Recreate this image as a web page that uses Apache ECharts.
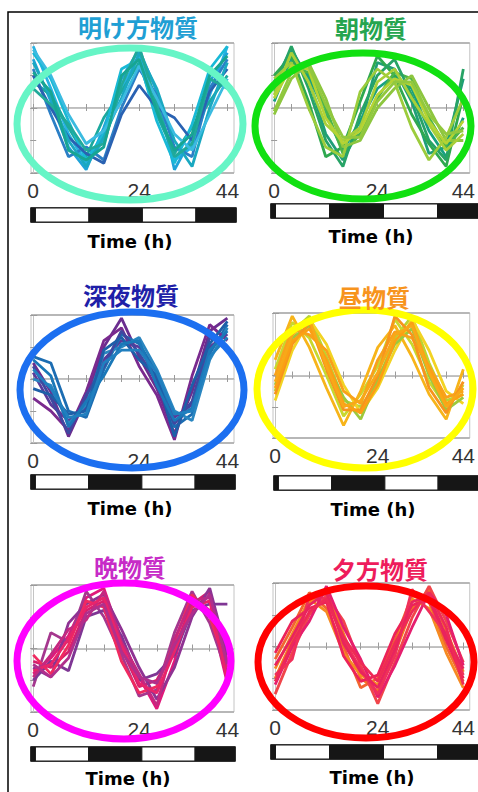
<!DOCTYPE html>
<html><head><meta charset="utf-8">
<script src="https://cdn.jsdelivr.net/npm/echarts@6/dist/echarts.min.js"></script>
<style>html,body{margin:0;padding:0;background:#fff}#c{width:478px;height:792px}</style>
</head><body><div id="c"></div>
<script>
// ---------- data ----------
const hours = [0,4,8,12,16,20,24,28,32,36,40,44];
const tickLabels = [0,24,44];
const panelTitles = ['明け方物質','朝物質','深夜物質','昼物質','晩物質','夕方物質'];
const axisTitle = 'Time (h)';
const ldStart = [-0.5,0.5,12.5,24.5,36.5];
const ldEnd   = [0.5,12.5,24.5,36.5,45.5];
const ldDark  = [1,0,1,0,1];

const dawnLines = [
  [1.9,0.6,-0.8,-1.7,-1.0,0.6,1.6,0.2,-1.6,-1.2,0.4,1.9],
  [1.5,0.2,-1.2,-1.9,-0.6,0.9,1.8,0.5,-1.9,-0.9,0.8,1.7],
  [0.8,0.4,-0.6,-1.5,-0.3,0.5,1.4,-0.2,-1.4,-0.6,0.2,1.0],
  [1.2,-0.2,-1.5,-1.2,-1.6,0.0,1.2,0.4,-1.2,-1.5,0.6,1.5],
  [1.7,0.9,-0.4,-1.6,-0.8,1.2,1.5,-0.4,-1.7,-0.5,1.2,1.9],
  [1.0,0.0,-0.9,-1.4,-1.7,-0.2,0.7,0.0,-0.3,-1.0,0.5,1.2],
  [1.4,0.3,-1.0,-1.8,-0.9,0.3,1.7,0.6,-1.0,-1.8,0.0,1.4],
  [0.6,0.1,-0.5,-1.3,-1.1,0.7,1.9,0.1,-1.5,-1.1,0.9,0.6],
  [1.8,1.0,-0.2,-1.1,-0.7,0.2,1.3,0.3,-0.8,-1.3,-0.2,0.9],
  [1.1,0.5,-1.3,-1.6,-1.2,1.0,1.5,-0.1,-1.3,-0.8,1.0,1.6]
];
const morningLines = [
  [0.8,1.8,0.9,-0.8,-1.6,-0.6,1.4,1.2,0.2,-1.4,-1.2,0.9],
  [0.2,1.5,1.0,-0.2,-1.3,-0.4,0.6,1.0,0.6,-0.7,-1.5,-0.3],
  [1.0,1.6,0.2,-1.5,-1.2,0.2,1.6,1.0,-0.2,-1.1,-1.8,0.4],
  [0.5,1.2,1.1,0.0,-1.4,-0.8,0.3,1.1,0.9,-0.3,-1.2,-0.6],
  [0.6,1.9,0.6,-1.0,-1.8,-0.2,1.0,1.5,0.4,-1.0,-1.6,1.2],
  [-0.2,0.9,1.4,0.3,-1.2,-1.0,0.0,0.6,1.0,0.0,-1.0,-1.0],
  [0.9,1.4,0.0,-1.2,-1.5,0.5,1.2,0.8,-0.6,-1.6,-0.9,0.3],
  [0.4,1.7,0.8,-0.5,-1.0,-0.6,0.8,1.2,0.3,-0.5,-1.3,-0.8],
  [0.3,1.3,1.2,-0.3,-1.1,-0.7,0.4,0.9,0.7,-0.4,-1.1,-0.4],
  [-0.1,1.1,1.3,0.1,-0.9,-0.9,0.2,0.8,0.8,-0.2,-0.8,-0.7]
];
const midnightLines = [
  [0.5,-0.4,-1.8,-0.6,1.0,1.9,0.7,-0.3,-1.7,-0.4,1.5,1.9],
  [0.2,-0.8,-1.3,-0.9,0.6,1.2,1.0,0.0,-1.2,-0.8,1.0,1.4],
  [0.7,0.5,-1.0,-1.2,0.3,1.4,1.1,0.2,-1.5,-1.1,0.8,1.7],
  [-0.6,-1.0,-1.6,-0.4,1.2,1.6,0.4,-0.5,-1.9,0.1,1.7,1.2],
  [0.0,-0.2,-1.4,-0.8,0.8,1.0,1.3,0.3,-1.0,-1.3,0.6,1.6],
  [0.4,-0.6,-1.7,-0.5,0.4,1.5,0.8,-0.1,-1.4,-0.7,1.3,1.0],
  [-0.3,-0.5,-1.1,-1.0,0.9,1.3,0.6,0.1,-1.8,-0.2,1.1,1.8],
  [0.6,0.1,-1.5,-0.7,0.1,1.1,1.2,-0.2,-1.3,-0.9,0.9,1.5],
  [0.3,-0.3,-1.2,-1.1,0.5,0.9,0.9,0.2,-1.1,-1.0,0.7,1.3]
];
const noonLines = [
  [-0.5,1.4,1.9,0.6,-0.8,-1.0,-0.2,1.2,1.9,0.4,-0.8,-0.6],
  [0.2,1.7,1.2,0.0,-1.3,-0.6,0.3,1.8,1.0,-0.2,-1.0,-0.3],
  [-0.8,0.8,1.8,1.0,-0.3,-1.2,-0.4,0.8,1.8,0.8,-0.5,-0.9],
  [0.5,1.9,0.9,-0.4,-1.6,-0.5,0.9,1.6,0.6,-0.6,-1.4,0.2],
  [-0.3,1.2,1.6,0.4,-0.7,-1.4,-0.1,1.0,1.5,0.0,-1.1,-0.7],
  [0.0,1.5,1.3,0.8,-0.5,-0.9,0.5,1.4,1.2,0.3,-0.7,-0.5],
  [-0.6,1.0,1.7,0.2,-1.1,-1.1,0.0,1.9,1.3,-0.4,-1.2,-0.2],
  [-0.4,1.1,1.5,0.5,-0.9,-1.2,-0.3,1.1,1.7,0.2,-0.9,-0.6],
  [-0.2,1.3,1.8,0.3,-1.0,-0.8,0.1,1.3,1.6,0.1,-1.0,-0.4]
];
const eveningLines = [
  [-0.8,-0.3,0.4,1.6,1.9,0.3,-0.9,-1.9,-0.4,1.6,1.2,-1.1],
  [-0.4,-0.6,-0.1,1.2,1.5,0.0,-1.2,-1.0,0.0,1.4,1.8,-0.4],
  [-1.2,0.5,0.2,1.8,1.0,-0.2,-1.5,-1.3,0.5,1.8,0.8,-0.8],
  [-0.6,-0.9,0.8,1.4,1.7,0.6,-0.6,-1.6,-0.6,1.0,1.9,-0.2],
  [-1.0,-0.4,-0.7,1.0,1.2,0.4,-1.0,-0.8,-0.2,1.2,1.4,1.4],
  [-0.2,-0.8,0.1,1.5,1.3,-0.4,-1.4,-1.2,0.2,1.7,1.0,-0.6],
  [-0.9,-0.2,0.6,0.9,1.8,0.2,-0.8,-1.8,0.3,1.5,1.6,-0.9],
  [-0.7,-0.5,0.3,1.3,1.6,0.1,-1.1,-1.4,-0.1,1.3,1.5,-1.0],
  [-0.5,-0.9,-0.3,1.1,1.4,-0.1,-0.9,-1.1,0.1,1.1,1.7,-0.5]
];
const duskLines = [
  [-1.0,0.2,1.4,1.8,0.4,-1.0,-1.4,-0.2,1.2,1.8,0.5,-0.8],
  [-0.4,0.6,1.7,1.2,0.0,-1.3,-1.0,0.2,1.6,1.4,0.0,-1.1],
  [-1.5,-0.2,1.0,1.6,0.8,-0.6,-1.8,-0.5,0.9,1.9,0.8,-0.5],
  [-0.7,0.4,1.5,1.1,-0.2,-0.9,-1.2,0.0,1.5,1.2,-0.2,-1.3],
  [-1.2,0.0,0.8,1.9,0.6,-0.4,-1.6,-0.6,0.6,1.7,1.0,-0.6],
  [-0.2,0.8,1.2,1.4,-0.3,-1.1,-0.9,0.4,1.3,1.5,0.2,-1.0],
  [-0.9,-0.4,1.6,1.5,0.2,-0.7,-1.5,-0.3,1.8,1.1,0.4,-0.9],
  [-0.6,0.3,1.3,1.7,0.1,-0.8,-1.3,-0.1,1.4,1.6,0.3,-0.7],
  [-1.1,0.1,1.1,1.5,0.3,-0.5,-1.1,0.1,1.1,1.7,0.6,-1.2]
];
const panelData = [dawnLines, morningLines, midnightLines, noonLines, eveningLines, duskLines];

// ---------- styles & layout ----------
const lineColors = [
  ['#27b2e4','#1fa3d8','#1ba99e','#2b7fc6','#19b9d6','#2a62b2','#1aa8c0','#21a99a','#3bbbe0','#17a592'],
  ['#1f9e78','#18a080','#2ea84f','#4cb548','#27a366','#8dc63f','#9ccc3c','#a9cf38','#b5d334','#92c83e'],
  ['#6b2d8f','#5a3a9a','#1c6db2','#7a2a8e','#2a86c0','#3f48a0','#1d5fa8','#1a78b8','#207fbf'],
  ['#b9d432','#c8d82e','#f2d323','#f7b41a','#9cc93c','#f9a11b','#f7941d','#fb9f14','#f8a818'],
  ['#e0197a','#d61f6e','#a5378e','#8e3393','#7f3694','#ef2a60','#c42880','#e8246a','#b02f8c'],
  ['#f47c20','#f26530','#f0454a','#f58a22','#e51e6e','#ec2359','#f0305a','#e8245e','#ee2a56']
];
const titleColors = ['#1f9fd4','#25a54f','#1f1fa8','#f7941d','#c72bc7','#ee1c5c'];
const ringColors  = ['#66f5c6','#11e011','#1c6ff0','#ffff00','#ff00ff','#ff0000'];
const layout = [
  {grid:{left:31,top:43,width:203,height:130}, ld:{left:31,top:208,width:205,height:14}, title:[138,26], time:[130,241], ring:[130,124,113,76]},
  {grid:{left:272,top:43,width:202,height:130}, ld:{left:271,top:204,width:210,height:14}, title:[371,27], time:[371,236], ring:[363,126,108,73]},
  {grid:{left:31,top:315,width:203,height:128}, ld:{left:31,top:475,width:204,height:14}, title:[131,294], time:[130,508], ring:[132,390,112,78]},
  {grid:{left:273,top:313,width:201,height:125}, ld:{left:274,top:476,width:210,height:14}, title:[374,296], time:[373,509], ring:[365,389,108,79]},
  {grid:{left:31,top:585,width:203,height:127}, ld:{left:31,top:747,width:204,height:14}, title:[130,566], time:[128,778], ring:[124,661,107,78]},
  {grid:{left:273,top:583,width:201,height:127}, ld:{left:271,top:745,width:210,height:14}, title:[380,568], time:[372,777], ring:[366,662,108,76]}
];
const X_MIN = -0.5, X_MAX = 45.5;

// ---------- build option ----------
const grids = [], xAxes = [], yAxes = [], series = [], graphics = [];
const tickStyle = {color:'#9a9a9a'};
layout.forEach((L, p) => {
  grids.push(Object.assign({show:true, borderColor:'#c4c4c4', borderWidth:1, containLabel:false}, L.grid));
  xAxes.push({type:'value', gridIndex:p, min:X_MIN, max:X_MAX, position:'bottom',
    axisLine:{show:true, lineStyle:{color:'#c4c4c4'}},
    axisTick:{show:true, inside:true, length:4, customValues:hours, lineStyle:tickStyle},
    axisLabel:{show:true, customValues:tickLabels, fontSize:21, color:'#333', margin:7, fontFamily:'Liberation Sans, Arial'},
    splitLine:{show:false}});
  yAxes.push({type:'value', gridIndex:p, min:-2, max:2, interval:2, position:'left',
    axisLine:{show:true, lineStyle:{color:'#c4c4c4'}},
    axisTick:{show:true, inside:true, length:4, lineStyle:tickStyle},
    minorTick:{show:true, splitNumber:2, length:3, lineStyle:tickStyle},
    axisLabel:{show:false},
    splitLine:{show:true, lineStyle:{color:'#a8a8a8', width:1.5}}});
});
layout.forEach((L, p) => {
  const gi = 6 + p;
  grids.push(Object.assign({show:true, borderColor:'#111', borderWidth:1.5}, L.ld));
  xAxes.push({type:'value', gridIndex:gi, min:X_MIN, max:X_MAX, show:false});
  yAxes.push({type:'value', gridIndex:gi, min:0, max:1, show:false});
});
// mirrored tick axes (top / right) on the plot boxes
layout.forEach((L, p) => {
  xAxes.push({type:'value', gridIndex:p, min:X_MIN, max:X_MAX, position:'top',
    axisLine:{show:false}, axisLabel:{show:false}, splitLine:{show:false},
    axisTick:{show:true, inside:true, length:3, customValues:hours, lineStyle:tickStyle}});
  yAxes.push({type:'value', gridIndex:p, min:-2, max:2, interval:2, position:'right',
    axisLine:{show:false}, axisLabel:{show:false}, splitLine:{show:false},
    axisTick:{show:true, inside:true, length:3, lineStyle:tickStyle},
    minorTick:{show:true, splitNumber:2, length:3, lineStyle:tickStyle}});
});

panelData.forEach((lines, p) => {
  lines.forEach((vals, k) => {
    series.push({type:'line', xAxisIndex:p, yAxisIndex:p, symbol:'none', silent:true, animation:false,
      data: hours.map((h, i) => [h, vals[i]]),
      lineStyle:{width:2.8, color: lineColors[p][k % lineColors[p].length]}, z:3});
  });
  series.push({type:'custom', xAxisIndex:6+p, yAxisIndex:6+p, silent:true, animation:false, clip:false,
    encode:{x:[0,1], y:2},
    data: ldStart.map((s, i) => [s, ldEnd[i], ldDark[i]]),
    renderItem: (params, api) => {
      const a = api.coord([api.value(0), 0]);
      const b = api.coord([api.value(1), 0]);
      const cs = params.coordSys;
      return {type:'rect', shape:{x:a[0], y:cs.y, width:b[0]-a[0], height:cs.height},
        style:{fill: api.value(2) ? '#161616' : '#ffffff', stroke:'#161616', lineWidth:1}};
    }});
});

// frame
graphics.push({type:'rect', shape:{x:8, y:12, width:490, height:800}, style:{fill:'none', stroke:'#000', lineWidth:1.5}, z:0, silent:true});
layout.forEach((L, p) => {
  graphics.push({type:'ellipse', shape:{cx:L.ring[0], cy:L.ring[1], rx:L.ring[2], ry:L.ring[3]},
    style:{fill:'none', stroke:ringColors[p], lineWidth:7}, z:100, silent:true});
  graphics.push({type:'text', x:L.title[0], y:L.title[1], z:101, silent:true,
    style:{text:panelTitles[p], fill:titleColors[p], font:'bold 24px "Noto Sans CJK JP"', textAlign:'center', textVerticalAlign:'middle'}});
  graphics.push({type:'text', x:L.time[0], y:L.time[1], z:101, silent:true,
    style:{text:axisTitle, fill:'#000', font:'bold 18px "DejaVu Sans"', textAlign:'center', textVerticalAlign:'middle'}});
});

const chart = echarts.init(document.getElementById('c'), null, {renderer:'svg'});
chart.setOption({animation:false, backgroundColor:'#fff', grid:grids, xAxis:xAxes, yAxis:yAxes, series:series, graphic:graphics});
</script></body></html>
